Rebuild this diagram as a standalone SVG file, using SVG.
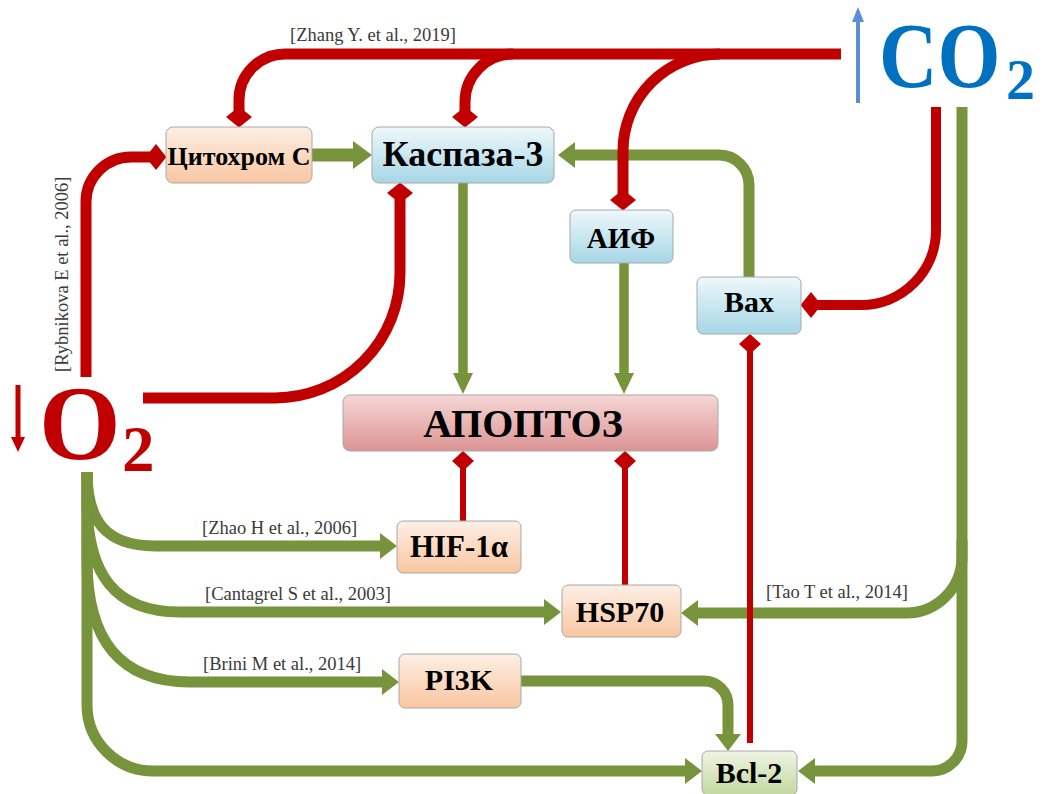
<svg xmlns="http://www.w3.org/2000/svg" width="1053" height="794" viewBox="0 0 1053 794">
<defs>
<linearGradient id="gPeach" x1="0" y1="0" x2="0" y2="1"><stop offset="0" stop-color="#fdefe5"/><stop offset="1" stop-color="#f9c6a0"/></linearGradient>
<linearGradient id="gBlue" x1="0" y1="0" x2="0" y2="1"><stop offset="0" stop-color="#eef8fb"/><stop offset="1" stop-color="#a6d6e5"/></linearGradient>
<linearGradient id="gPink" x1="0" y1="0" x2="0" y2="1"><stop offset="0" stop-color="#f6d6d6"/><stop offset="1" stop-color="#dc9494"/></linearGradient>
<linearGradient id="gGreen" x1="0" y1="0" x2="0" y2="1"><stop offset="0" stop-color="#eef4e4"/><stop offset="1" stop-color="#c3d89f"/></linearGradient>
<marker id="ag" markerUnits="userSpaceOnUse" viewBox="0 0 17 26" markerWidth="17" markerHeight="26" refX="1" refY="13" orient="auto"><path d="M0,0 L17,13 L0,26 z" fill="#77933c"/></marker>
<marker id="agL" markerUnits="userSpaceOnUse" viewBox="0 0 19 28" markerWidth="19" markerHeight="28" refX="1" refY="14" orient="auto"><path d="M0,0 L19,14 L0,28 z" fill="#77933c"/></marker>
<marker id="agV" markerUnits="userSpaceOnUse" viewBox="0 0 21 20" markerWidth="21" markerHeight="20" refX="1" refY="10" orient="auto"><path d="M0,0 L21,10 L0,20 z" fill="#77933c"/></marker>
<marker id="dr" markerUnits="userSpaceOnUse" viewBox="0 0 21 26" markerWidth="21" markerHeight="26" refX="10.5" refY="13" orient="auto"><path d="M0,13 L10.5,0 L21,13 L10.5,26 z" fill="#c00000"/></marker>
<marker id="drt" markerUnits="userSpaceOnUse" viewBox="0 0 20 22" markerWidth="20" markerHeight="22" refX="10" refY="11" orient="auto"><path d="M0,11 L10,0 L20,11 L10,22 z" fill="#c00000"/></marker>
</defs>
<style>
.g{fill:none;stroke:#77933c;stroke-width:11}
.gv{fill:none;stroke:#77933c;stroke-width:9.5}
.r{fill:none;stroke:#c00000;stroke-width:11}
.rt{fill:none;stroke:#c00000;stroke-width:6}
.box{stroke:#a8a8a8;stroke-width:1}
.nt{font-family:"Liberation Serif","Times New Roman",serif;font-weight:bold;fill:#000;text-anchor:middle}
.ref{font-family:"Liberation Serif","Times New Roman",serif;font-size:18.5px;fill:#3a3a3a}
.big{font-family:"Liberation Serif","Times New Roman",serif;font-weight:bold}
</style>
<rect width="1053" height="794" fill="#fff"/>

<g id="connectors">
  <!-- green activations -->
  <path class="g" style="stroke-width:13" d="M312 155 H354" marker-end="url(#agL)"/>
  <path class="gv" d="M463 183 V374" marker-end="url(#agV)"/>
  <path class="gv" d="M624 263 V374" marker-end="url(#agV)"/>
  <path class="g" d="M749 277 V185 A30 30 0 0 0 719 155 H574" marker-end="url(#ag)"/>
  <path class="g" d="M87 472 C87 520 105 546 155 546 H381" marker-end="url(#ag)"/>
  <path class="g" d="M87 472 V500 C87 575 115 612 180 612 H545" marker-end="url(#ag)"/>
  <path class="g" d="M87 472 V560 C87 640 120 682 190 682 H383" marker-end="url(#ag)"/>
  <path class="g" d="M87 472 V705 A66 66 0 0 0 153 771 H686" marker-end="url(#ag)"/>
  <path class="g" d="M520 681 H704 A24 24 0 0 1 728 705 V735" marker-end="url(#ag)"/>
  <path class="g" d="M962 107 V741 A30 30 0 0 1 932 771 H814" marker-end="url(#ag)"/>
  <path class="g" d="M962 540 V557 A56 56 0 0 1 906 613 H697" marker-end="url(#ag)"/>
  <!-- red inhibitions -->
  <path class="r" d="M841 54 H285 A46 46 0 0 0 239 100 V117" marker-end="url(#dr)"/>
  <path class="r" d="M513 54 A48 48 0 0 0 465 102 V117" marker-end="url(#dr)"/>
  <path class="r" d="M720 54 A97 97 0 0 0 623 151 V200" marker-end="url(#dr)"/>
  <path class="r" style="stroke-width:10" d="M936 107 V230 A75 75 0 0 1 861 305 H811" marker-end="url(#dr)"/>
  <path class="r" d="M86 377 V202 A45 45 0 0 1 131 157 H156" marker-end="url(#dr)"/>
  <path class="r" d="M143 398 H275 A125 125 0 0 0 400 273 V193" marker-end="url(#dr)"/>
  <path class="rt" d="M463 521 V461" marker-end="url(#drt)"/>
  <path class="rt" d="M625 585 V461" marker-end="url(#drt)"/>
  <path class="rt" d="M750 743 V344" marker-end="url(#drt)"/>
  <!-- level arrows -->
  <path d="M858 103 V20" stroke="#5b8ed6" stroke-width="4" fill="none"/>
  <path d="M852 22 L858 7 L864 22 z" fill="#5b8ed6"/>
  <path d="M18 385 V440" stroke="#c00000" stroke-width="5" fill="none"/>
  <path d="M11 437 L18 452 L25 437 z" fill="#c00000"/>
</g>

<g id="refs" class="ref">
  <text x="290" y="41">[Zhang Y. et al., 2019]</text>
  <text transform="translate(68,372) rotate(-90)">[Rybnikova E et al., 2006]</text>
  <text x="202" y="534">[Zhao H et al., 2006]</text>
  <text x="205" y="600">[Cantagrel S et al., 2003]</text>
  <text x="203" y="670">[Brini M et al., 2014]</text>
  <text x="766" y="598">[Tao T et al., 2014]</text>
</g>

<g id="O2">
  <text class="big" x="39" y="459" font-size="105" fill="#c00000">O</text>
  <text class="big" x="122" y="471" font-size="65" fill="#c00000">2</text>
</g>
<g id="CO2">
  <text class="big" transform="translate(879,87) scale(0.87,1)" font-size="93" fill="#0070c0">CO</text>
  <text class="big" x="1006" y="99" font-size="58" fill="#0070c0">2</text>
</g>

<g id="cytochrome">
  <rect class="box" x="166" y="127" width="146" height="56" rx="7" fill="url(#gPeach)"/>
  <text class="nt" x="239" y="165" font-size="26">Цитохром С</text>
</g>
<g id="caspase3">
  <rect class="box" x="372" y="127" width="182" height="56" rx="7" fill="url(#gBlue)"/>
  <text class="nt" x="463" y="166" font-size="36">Каспаза-3</text>
</g>
<g id="aif">
  <rect class="box" x="570" y="210" width="103" height="53" rx="6" fill="url(#gBlue)"/>
  <text class="nt" x="621" y="248" font-size="29">АИФ</text>
</g>
<g id="bax">
  <rect class="box" x="697" y="277" width="104" height="57" rx="6" fill="url(#gBlue)"/>
  <text class="nt" x="749" y="312" font-size="30">Bax</text>
</g>
<g id="apoptosis">
  <rect class="box" x="343" y="395" width="375" height="56" rx="7" fill="url(#gPink)"/>
  <text class="nt" x="523" y="437" font-size="40">АПОПТОЗ</text>
</g>
<g id="hif1a">
  <rect class="box" x="397" y="521" width="124" height="52" rx="6" fill="url(#gPeach)"/>
  <text class="nt" x="459" y="557" font-size="31">HIF-1α</text>
</g>
<g id="hsp70">
  <rect class="box" x="562" y="585" width="119" height="52" rx="6" fill="url(#gPeach)"/>
  <text class="nt" x="620" y="622" font-size="30">HSP70</text>
</g>
<g id="pi3k">
  <rect class="box" x="399" y="654" width="122" height="54" rx="6" fill="url(#gPeach)"/>
  <text class="nt" x="459" y="690" font-size="30">PI3K</text>
</g>
<g id="bcl2">
  <rect class="box" x="702" y="751" width="95" height="44" rx="6" fill="url(#gGreen)"/>
  <text class="nt" x="749" y="783" font-size="30">Bcl-2</text>
</g>
</svg>
